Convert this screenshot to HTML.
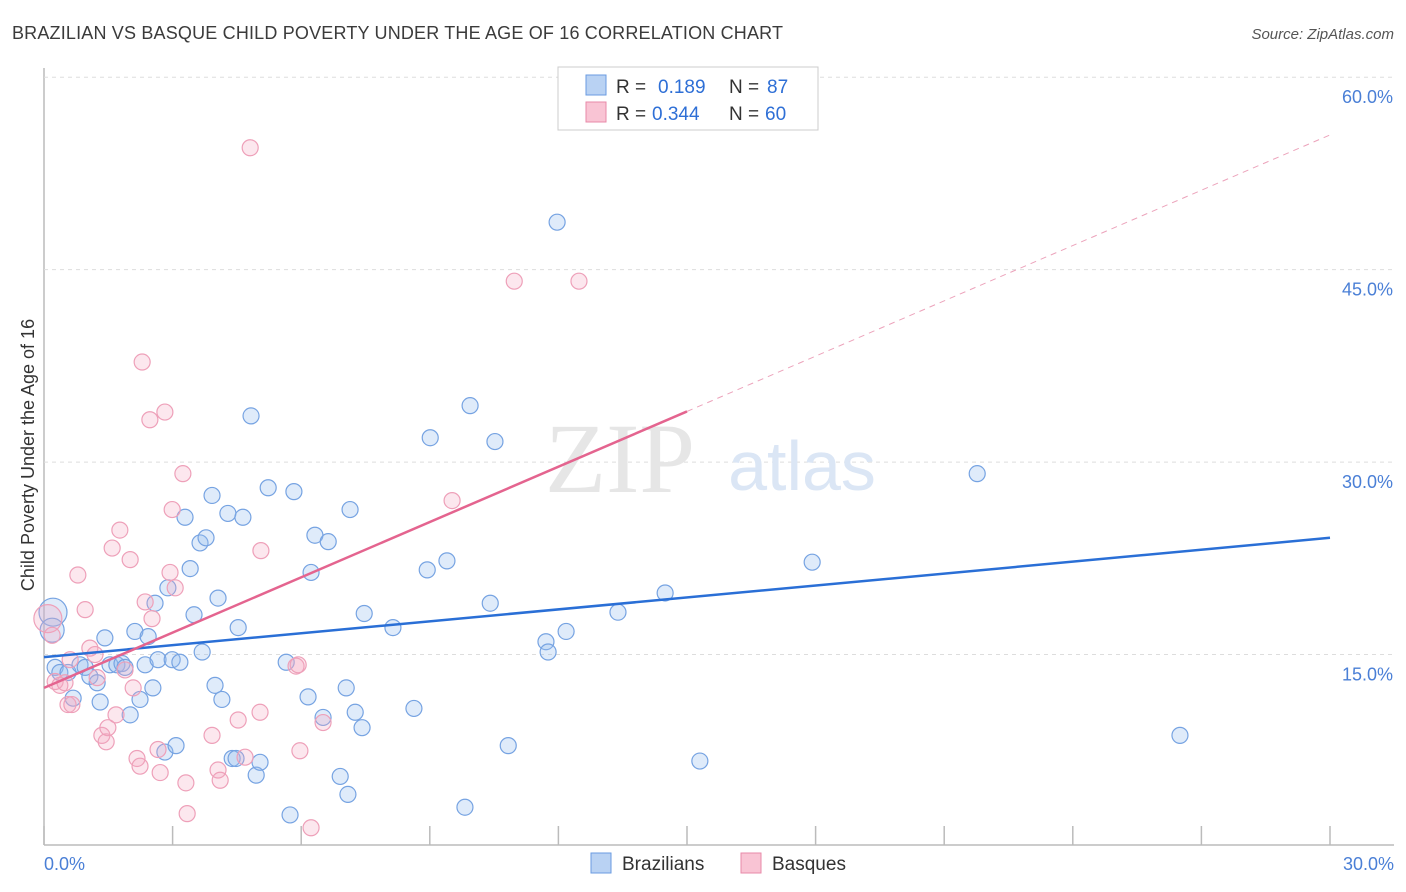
<!DOCTYPE html>
<html><head><meta charset="utf-8"><style>
body{margin:0;background:#fff;font-family:"Liberation Sans",sans-serif;}
svg{display:block}
</style></head><body>
<svg id="chart" width="1406" height="892">
<text x="12" y="39" font-size="18" fill="#3b3b3b" textLength="771">BRAZILIAN VS BASQUE CHILD POVERTY UNDER THE AGE OF 16 CORRELATION CHART</text>
<text x="1394" y="39" font-size="15" fill="#555" font-style="italic" text-anchor="end">Source: ZipAtlas.com</text>
<text x="34" y="455" font-size="18" fill="#333" text-anchor="middle" transform="rotate(-90 34 455)">Child Poverty Under the Age of 16</text>
<g id="grid"></g>
<text x="620" y="492" font-size="100" fill="#e6e6e6" font-family="Liberation Serif,serif" text-anchor="middle">ZIP</text>
<text x="802" y="490" font-size="70" fill="#dbe6f5" text-anchor="middle">atlas</text>
<g id="marks"></g>
<g>
<rect x="558" y="67" width="260" height="63" fill="#fff" stroke="#ccc"/>
<rect x="586" y="75" width="20" height="20" fill="#b9d2f3" stroke="#6a9be0"/>
<rect x="586" y="102" width="20" height="20" fill="#f9c4d4" stroke="#e88aa8"/>
<text x="616" y="93" font-size="19" fill="#333">R =</text>
<text x="658" y="93" font-size="19" fill="#2e6fd6">0.189</text>
<text x="729" y="93" font-size="19" fill="#333">N =</text>
<text x="767" y="93" font-size="19" fill="#2e6fd6">87</text>
<text x="616" y="120" font-size="19" fill="#333">R =</text>
<text x="652" y="120" font-size="19" fill="#2e6fd6">0.344</text>
<text x="729" y="120" font-size="19" fill="#333">N =</text>
<text x="765" y="120" font-size="19" fill="#2e6fd6">60</text>
</g>
<g>
<rect x="591" y="853" width="20" height="20" fill="#b9d2f3" stroke="#6a9be0"/>
<text x="622" y="870" font-size="19" fill="#333">Brazilians</text>
<rect x="741" y="853" width="20" height="20" fill="#f9c4d4" stroke="#e88aa8"/>
<text x="772" y="870" font-size="19" fill="#333">Basques</text>
</g>
</svg>
<script>
const xTicks=[0,3,6,9,12,15,18,21,24,27,30];
const yTicks=[15,30,45,60];
const xLabels=["0.0%","30.0%"];
const braX=[0.21,0.19,0.26,0.37,0.56,0.68,0.84,0.96,1.07,1.24,1.31,1.42,1.54,1.70,1.82,1.89,2.01,2.12,2.24,2.36,2.43,2.54,2.59,2.66,2.82,2.89,2.99,3.08,3.17,3.29,3.41,3.50,3.64,3.69,3.78,3.92,3.99,4.06,4.15,4.29,4.39,4.48,4.53,4.64,4.83,4.95,5.04,5.23,5.65,5.74,5.83,6.16,6.23,6.32,6.51,6.63,6.91,7.05,7.09,7.14,7.26,7.42,7.47,8.14,8.63,8.94,9.01,9.40,9.82,9.94,10.41,10.52,10.83,11.71,11.76,11.97,12.18,13.39,14.49,15.30,17.92,21.77,26.50];
const braY=[18.3,16.9,14.0,13.6,13.6,11.6,14.2,14.0,13.3,12.8,11.3,16.3,14.2,14.2,14.3,14.0,10.3,16.8,11.5,14.2,16.4,12.4,19.0,14.6,7.4,20.2,14.6,7.9,14.4,25.7,21.7,18.1,23.7,15.2,24.1,27.4,12.6,19.4,11.5,26.0,6.9,6.9,17.1,25.7,33.6,5.6,6.6,28.0,14.4,2.5,27.7,11.7,21.4,24.3,10.1,23.8,5.5,12.4,4.1,26.3,10.5,9.3,18.2,17.1,10.8,21.6,31.9,22.3,3.1,34.4,19.0,31.6,7.9,16.0,15.2,48.7,16.8,18.3,19.8,6.7,22.2,29.1,8.7];
const basX=[0.09,0.19,0.26,0.37,0.49,0.56,0.65,0.61,0.79,0.96,1.07,1.19,1.24,1.35,1.45,1.49,1.59,1.68,1.77,1.89,2.01,2.08,2.17,2.24,2.29,2.36,2.47,2.52,2.66,2.71,2.82,2.94,2.99,3.06,3.24,3.31,3.34,3.92,4.06,4.11,4.53,4.69,4.81,5.04,5.06,5.88,5.93,5.97,6.23,6.51,9.52,10.97,12.48];
const basY=[17.8,16.5,12.9,12.6,12.8,11.1,11.1,14.6,21.2,18.5,15.5,15.0,13.2,8.7,8.2,9.3,23.3,10.3,24.7,13.8,22.4,12.4,6.9,6.3,37.8,19.1,33.3,17.8,7.6,5.8,33.9,21.4,26.3,20.2,29.1,5.0,2.6,8.7,6.0,5.2,9.9,7.0,54.5,10.5,23.1,14.1,14.2,7.5,1.5,9.7,27.0,44.1,44.1];
const braLine=[14.8,24.1];
const basLine=[12.4,55.5];

const NS="http://www.w3.org/2000/svg";
const X=v=>44+v/30*1286;
const Y=v=>847-v*12.83;
function mk(t,a,p){const e=document.createElementNS(NS,t);for(const k in a)e.setAttribute(k,a[k]);p.appendChild(e);return e;}
const grid=document.getElementById('grid'),marks=document.getElementById('marks');
let ax=mk('line',{x1:44,y1:68,x2:44,y2:845,stroke:'#bbb','stroke-width':1.5},grid);


let bx=mk('line',{x1:44,y1:845,x2:1394,y2:845,stroke:'#bbb','stroke-width':1.5},grid);


yTicks.forEach(v=>{
 const g=mk('line',{x1:44,y1:Y(v),x2:1394,y2:Y(v),stroke:'#ddd','stroke-dasharray':'4,4'},grid);
 
 
 const t=mk('text',{x:1393,y:Y(v)+26,'font-size':18,fill:'#4a7fd6','text-anchor':'end'},grid);
 t.textContent=v.toFixed(1)+'%';
 
 
});
xTicks.forEach(v=>{
 const l=mk('line',{x1:X(v),y1:826,x2:X(v),y2:845,stroke:'#bbb','stroke-width':1.5},grid);
 
 
});
[[0,xLabels[0],'start',44],[30,xLabels[1],'end',1394]].forEach(([v,s,a,x])=>{
 const t=mk('text',{x:x,y:870,'font-size':18,fill:'#4a7fd6','text-anchor':a},grid);
 t.textContent=s;
 
 
});
function pts(xs,ys,fill,stroke,name){
 xs.forEach((v,i)=>{
  const big=i<2&&name==='brazilian-point'||i===0&&name==='basque-point';
  const c=mk('circle',{cx:X(v),cy:Y(ys[i]),r:big?(i===0?14:12):8,fill:fill,stroke:stroke,'stroke-width':1.2},marks);
  
  
 });
}
pts(braX,braY,'rgba(150,188,238,0.3)','#76a3e2','brazilian-point');
pts(basX,basY,'rgba(246,170,195,0.28)','#eea0b9','basque-point');
let bl=mk('line',{x1:X(0),y1:Y(braLine[0]),x2:X(30),y2:Y(braLine[1]),stroke:'#2a6fd6','stroke-width':2.5},marks);


const sl=(basLine[1]-basLine[0])/30;
let pl=mk('line',{x1:X(0),y1:Y(basLine[0]),x2:X(15),y2:Y(basLine[0]+sl*15),stroke:'#e4648f','stroke-width':2.5},marks);


let pd=mk('line',{x1:X(15),y1:Y(basLine[0]+sl*15),x2:X(30),y2:Y(basLine[1]),stroke:'#eca3bb','stroke-width':1,'stroke-dasharray':'6,5'},marks);


</script>
</body></html>
